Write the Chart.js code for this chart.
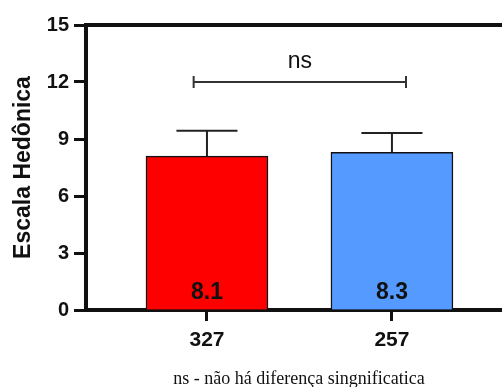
<!DOCTYPE html>
<html>
<head>
<meta charset="utf-8">
<script src="https://cdn.jsdelivr.net/npm/chart.js@4.4.1/dist/chart.umd.min.js"></script>
<style>
  html, body { margin: 0; padding: 0; background: #fff; overflow: hidden; }
  #wrap { position: relative; width: 502px; height: 387px; }
  #caption {
    position: absolute; left: 0; width: 598px; top: 368px;
    text-align: center; font: 18px "Liberation Serif", "DejaVu Serif", serif; color: #111;
  }
</style>
</head>
<body>
<div id="wrap">
  <canvas id="chart" width="502" height="387"></canvas>
  <div id="caption">ns - não há diferença singnificatica</div>
</div>
<script>
const groups = ['327', '257'];
const positions = [1, 2];
const means = [8.1, 8.3];
const errors = [1.34, 1.02];
const barColors = ['#FF0000', '#559BFF'];
const yTicks = [0, 3, 6, 9, 12, 15];
const sigLabel = 'ns';
const sigLevel = 12;

// error bars, value labels and the significance bracket
const overlay = {
  id: 'overlay',
  afterDatasetsDraw(chart) {
    const { ctx } = chart;
    const x = chart.scales.x;
    const y = chart.scales.y;
    ctx.save();

    positions.forEach((p, i) => {
      const cx = x.getPixelForValue(p);
      const top = y.getPixelForValue(means[i] + errors[i]);
      const base = y.getPixelForValue(means[i]);
      const half = x.getPixelForValue(p + 0.165) - cx;
      ctx.strokeStyle = '#222';
      ctx.lineWidth = 2;
      ctx.beginPath();
      ctx.moveTo(cx, base);
      ctx.lineTo(cx, top);
      ctx.moveTo(cx - half, top);
      ctx.lineTo(cx + half, top);
      ctx.stroke();

      ctx.fillStyle = '#111';
      ctx.font = 'bold 23px "Liberation Sans", Arial, sans-serif';
      ctx.textAlign = 'center';
      ctx.textBaseline = 'middle';
      ctx.fillText(means[i].toFixed(1), cx, y.getPixelForValue(0) - 17);
    });

    const x1 = x.getPixelForValue(positions[0] - 0.072);
    const x2 = x.getPixelForValue(positions[1] + 0.076);
    const by = y.getPixelForValue(sigLevel);
    ctx.strokeStyle = '#333';
    ctx.lineWidth = 2;
    ctx.beginPath();
    ctx.moveTo(x1, by);
    ctx.lineTo(x2, by);
    ctx.moveTo(x1, by - 6);
    ctx.lineTo(x1, by + 6);
    ctx.moveTo(x2, by - 6);
    ctx.lineTo(x2, by + 6);
    ctx.stroke();

    ctx.fillStyle = '#111';
    ctx.font = '23px "Liberation Sans", Arial, sans-serif';
    ctx.textAlign = 'center';
    ctx.textBaseline = 'middle';
    ctx.fillText(sigLabel, (x1 + x2) / 2, by - 20);
    ctx.restore();
  }
};

new Chart(document.getElementById('chart'), {
  type: 'bar',
  data: {
    datasets: [{
      data: positions.map((p, i) => ({ x: p, y: means[i] })),
      backgroundColor: barColors,
      borderColor: '#111',
      borderWidth: 1.5,
      barThickness: 122,
    }],
  },
  options: {
    responsive: false,
    animation: false,
    devicePixelRatio: 1,
    layout: { padding: { top: 25, left: 0, right: 0, bottom: 0 } },
    plugins: { legend: { display: false }, tooltip: { enabled: false } },
    scales: {
      x: {
        type: 'linear',
        offset: false,
        min: 0.346,
        max: 2.595,
        afterFit: (s) => { s.height = 77; },
        afterBuildTicks: (s) => { s.ticks = positions.map((v) => ({ value: v })); },
        grid: { offset: false, drawOnChartArea: false, tickLength: 11, tickWidth: 3, tickColor: '#111' },
        border: { color: '#111', width: 4 },
        ticks: {
          callback: (v) => groups[positions.indexOf(v)],
          color: '#111',
          padding: 7,
          font: { family: '"Liberation Sans", Arial, sans-serif', size: 21, weight: 'bold' },
        },
      },
      xTop: {
        type: 'linear',
        position: 'top',
        offset: false,
        min: 0.346,
        max: 2.595,
        afterFit: (s) => { s.height = 0; },
        grid: { drawOnChartArea: false, drawTicks: false },
        border: { color: '#111', width: 4 },
        ticks: { display: false },
      },
      y: {
        min: 0,
        max: 15,
        afterFit: (s) => { s.width = 86; },
        afterBuildTicks: (s) => { s.ticks = yTicks.map((v) => ({ value: v })); },
        grid: { drawOnChartArea: false, tickLength: 12, tickWidth: 3, tickColor: '#111' },
        border: { color: '#111', width: 4 },
        ticks: {
          color: '#111',
          padding: 5,
          font: { family: '"Liberation Sans", Arial, sans-serif', size: 20, weight: 'bold' },
        },
        title: {
          display: true,
          text: 'Escala Hedônica',
          color: '#111',
          padding: { top: 10, bottom: 0 },
          font: { family: '"Liberation Sans", Arial, sans-serif', size: 23, weight: 'bold' },
        },
      },
    },
  },
  plugins: [overlay],
});
</script>
</body>
</html>
